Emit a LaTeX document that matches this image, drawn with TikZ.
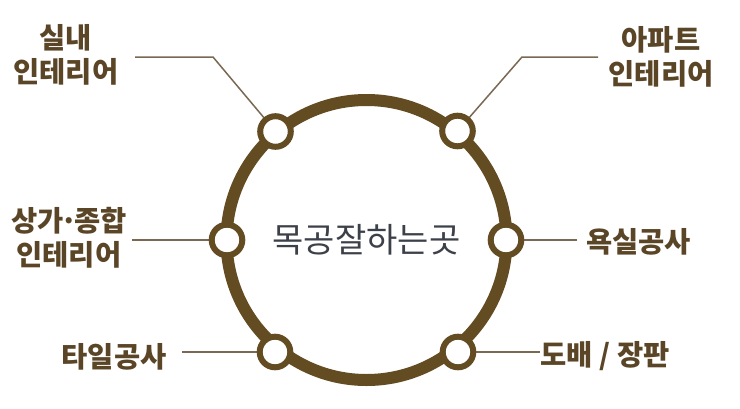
\documentclass[tikz,border=0pt]{standalone}
\usepackage{fontspec}
\newfontfamily\krfont{Noto Sans CJK KR}
\definecolor{ringbrown}{HTML}{634B22}
\definecolor{labelbrown}{HTML}{5A4526}
\definecolor{linkbrown}{HTML}{7A6851}
\definecolor{hubgray}{HTML}{3C4048}

\begin{document}
\begin{tikzpicture}[x=1pt,y=-1pt]
        \tikzstyle{every node}=[font=\krfont]
        \tikzstyle{spot}=[circle,draw=ringbrown,fill=white,line width=6pt,minimum size=30.6pt,inner sep=0pt]
        \tikzstyle{tag}=[text=labelbrown,font=\krfont\bfseries\fontsize{28.5}{34}\selectfont,align=center,inner sep=0pt]
        \tikzstyle{link}=[draw=linkbrown,line width=1.5pt]
        \useasboundingbox (0,0) rectangle (740,408);
        \node[circle,draw=ringbrown,line width=12pt,minimum size=280pt,text=hubgray,font=\krfont\fontsize{34}{40}\selectfont] (hub) at (366.5,240) {목공잘하는곳};
        \node[tag] (silnae) at (66,55) {실내\\인테리어};
        \node[tag] (apart) at (661,57) {아파트\\인테리어};
        \node[tag] (sangga) at (69,238) {상가\kern-0.12em·\kern-0.12em종합\\인테리어};
        \node[tag] (yoksil) at (638.5,241.5) {욕실공사};
        \node[tag] (tile) at (114,356.5) {타일공사};
        \node[tag] (dobae) at (605,356) {도배 / 장판};
        \coordinate (silnae-a) at (135,57);
        \coordinate (silnae-b) at (213,57);
        \coordinate (apart-a) at (598,57);
        \coordinate (apart-b) at (522,57);
        \coordinate (sangga-a) at (132,240);
        \coordinate (yoksil-a) at (577,240);
        \coordinate (tile-a) at (182,352);
        \coordinate (dobae-a) at (540,352);
        \draw[link] (silnae-a) -- (silnae-b) -- (275.5,131.5);
        \draw[link] (apart-a) -- (apart-b) -- (457.5,131);
        \draw[link] (sangga-a) -- (227,240);
        \draw[link] (yoksil-a) -- (506,240);
        \draw[link] (tile-a) -- (275,352);
        \draw[link] (dobae-a) -- (458,352);
        \node[spot] (tl) at (275.5,131.5) {};
        \node[spot] (tr) at (457.5,131) {};
        \node[spot] (ll) at (227,240) {};
        \node[spot] (rr) at (506,240) {};
        \node[spot] (bl) at (275,352) {};
        \node[spot] (br) at (458,352) {};
    \end{tikzpicture}
\end{document}
